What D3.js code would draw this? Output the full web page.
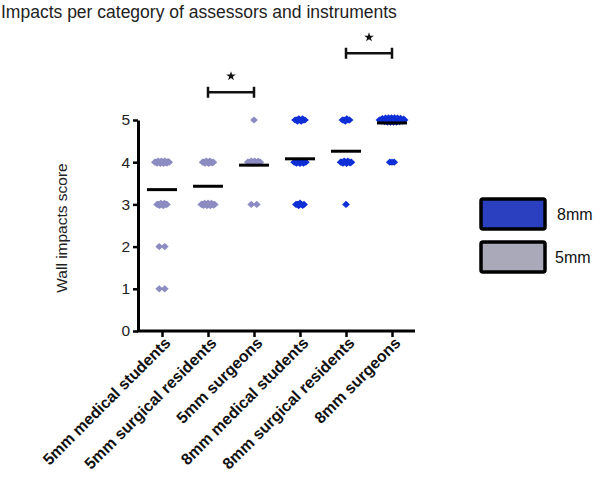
<!DOCTYPE html>
<html>
<head>
<meta charset="utf-8">
<script src="https://cdn.jsdelivr.net/npm/d3@7"></script>
<style>
  body { margin: 0; background: #fff; }
  text { font-family: "Liberation Sans", Arial, sans-serif; }
</style>
</head>
<body>
<svg id="chart" width="600" height="480"></svg>
<script>
// ---- data ----
const categories = [
  "5mm medical students",
  "5mm surgical residents",
  "5mm surgeons",
  "8mm medical students",
  "8mm surgical residents",
  "8mm surgeons"
];
const instrument = ["5mm", "5mm", "5mm", "8mm", "8mm", "8mm"];
const scores = [5, 4, 3, 2, 1];
// number of assessors giving each score [5,4,3,2,1] per category
const counts = [
  [0, 14, 9, 2, 2],
  [0, 10, 13, 0, 0],
  [1, 12, 2, 0, 0],
  [9, 11, 7, 0, 0],
  [6, 10, 1, 0, 0],
  [26, 3, 0, 0, 0]
];
const means = [3.35, 3.43, 3.93, 4.08, 4.26, 4.93];
const yTicks = [0, 1, 2, 3, 4, 5];
const legendItems = ["8mm", "5mm"];
const significance = [
  { from: "5mm surgical residents", to: "5mm surgeons", level: 5.66 },
  { from: "8mm surgical residents", to: "8mm surgeons", level: 6.58 }
];

// ---- styles ----
const colors = { "8mm": "#0f2fd6", "5mm": "#8c8cc2" };
const legendFill = { "8mm": "#2b40c0", "5mm": "#a9a9b9" };

const svg = d3.select("#chart");

const x = d3.scalePoint().domain(categories).range([139, 415]).padding(0.5);
const y = d3.scaleLinear().domain([0, 5]).range([331, 120]);

// title
svg.append("text")
  .attr("x", 1).attr("y", 18)
  .attr("font-size", 17.5)
  .attr("fill", "#222")
  .text("Impacts per category of assessors and instruments");

// y axis label
svg.append("text")
  .attr("transform", "translate(67,228) rotate(-90)")
  .attr("text-anchor", "middle")
  .attr("font-size", 15.5)
  .attr("fill", "#222")
  .text("Wall impacts score");

// points
function diamond(cx, cy, hw, hh) {
  return `M${cx},${cy - hh}L${cx + hw},${cy}L${cx},${cy + hh}L${cx - hw},${cy}Z`;
}
const pts = [];
categories.forEach((c, ci) => {
  scores.forEach((s, si) => {
    const n = counts[ci][si];
    if (!n) return;
    const span = n === 1 ? 0 : (n === 2 ? 5.5 : 3.5 + (n - 2) * 0.9);
    const vy = n > 15 ? 2.2 : (n > 2 ? 1.2 : 0);
    for (let i = 0; i < n; i++) {
      const t = n === 1 ? 0 : (i / (n - 1) - 0.5);
      const dx = t * span;
      // taper vertical spread toward cluster ends -> elliptical blob
      const dy = ((i % 3) - 1) * vy * Math.sqrt(Math.max(0, 1 - 4 * t * t));
      pts.push({ c, s, dx, dy, inst: instrument[ci], n });
    }
  });
});
svg.append("g").selectAll("path")
  .data(pts)
  .join("path")
  .attr("d", d => diamond(x(d.c) + d.dx, y(d.s) + d.dy, 3.9, 3.6))
  .attr("fill", d => colors[d.inst]);

// means
svg.append("g").selectAll("line")
  .data(categories)
  .join("line")
  .attr("x1", d => x(d) - 15)
  .attr("x2", d => x(d) + 15)
  .attr("y1", (d, i) => y(means[i]))
  .attr("y2", (d, i) => y(means[i]))
  .attr("stroke", "#000")
  .attr("stroke-width", 3);

// y axis
const yAxis = svg.append("g")
  .attr("transform", "translate(138,0)")
  .call(d3.axisLeft(y).tickValues(yTicks).tickFormat(d3.format("d")).tickSize(5).tickSizeOuter(0).tickPadding(3));
yAxis.select(".domain").attr("stroke-width", 3).attr("stroke", "#000");
yAxis.selectAll(".tick line").attr("stroke-width", 2.5).attr("stroke", "#000");
yAxis.selectAll(".tick text").attr("font-size", 15.5).attr("fill", "#222")
  .attr("font-family", "'Liberation Sans', Arial, sans-serif");

// x axis
const xAxis = svg.append("g")
  .attr("transform", "translate(0,331)")
  .call(d3.axisBottom(x).tickSize(6).tickSizeOuter(0));
xAxis.select(".domain").attr("stroke-width", 3).attr("stroke", "#000")
  .attr("d", "M137,0H415");
xAxis.selectAll(".tick line").attr("stroke-width", 2.5).attr("stroke", "#000");
xAxis.selectAll(".tick text")
  .attr("font-size", 16)
  .attr("font-weight", "bold")
  .attr("fill", "#111")
  .attr("font-family", "'Liberation Sans', Arial, sans-serif")
  .attr("text-anchor", "end")
  .attr("transform", "translate(5,9) rotate(-45)")
  .attr("y", 0).attr("x", 0).attr("dy", "0.35em");

// significance brackets
const sig = svg.append("g");
significance.forEach(b => {
  const x1 = x(b.from), x2 = x(b.to), yy = y(b.level);
  sig.append("path")
    .attr("d", `M${x1},${yy - 5.5}V${yy + 5.5}M${x1},${yy}H${x2}M${x2},${yy - 5.5}V${yy + 5.5}`)
    .attr("stroke", "#111").attr("stroke-width", 2.5).attr("fill", "none");
  sig.append("path")
    .attr("d", d3.symbol(d3.symbolStar, 28)())
    .attr("transform", `translate(${(x1 + x2) / 2},${yy - 16})`)
    .attr("fill", "#111");
});

// legend
const lg = svg.append("g");
legendItems.forEach((k, i) => {
  const ly = 199 + i * 43;
  lg.append("rect")
    .attr("x", 481).attr("y", ly).attr("width", 64).attr("height", 30)
    .attr("rx", 2)
    .attr("fill", legendFill[k]).attr("stroke", "#000").attr("stroke-width", 3.5);
  lg.append("text")
    .attr("x", i === 0 ? 557 : 555).attr("y", ly + 15).attr("dy", "0.35em")
    .attr("font-size", 16).attr("fill", "#111")
    .attr("font-family", "Carlito, Calibri, 'Liberation Sans', sans-serif")
    .text(k);
});
</script>
</body>
</html>
